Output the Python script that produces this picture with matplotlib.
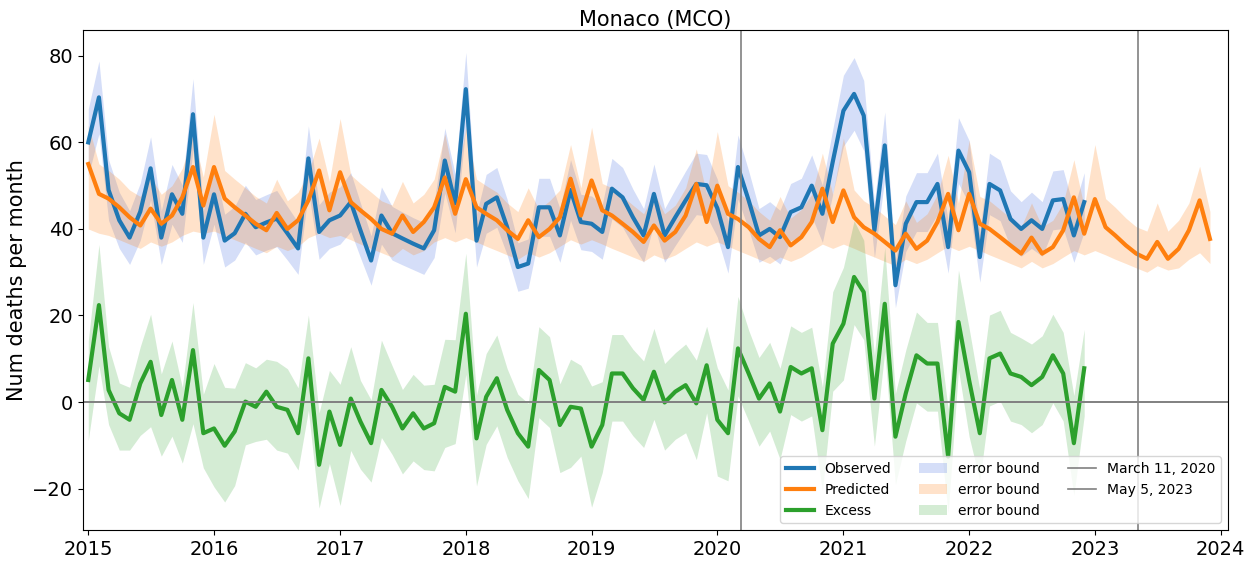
import numpy as np
import pandas as pd
import matplotlib
matplotlib.use("Agg")
import matplotlib.pyplot as plt
import matplotlib.dates as mdates
from matplotlib.patches import Patch
from matplotlib.lines import Line2D

# Monthly values
obs_dates = pd.date_range("2015-01-01", periods=96, freq="MS")
pred_dates = pd.date_range("2015-01-01", periods=108, freq="MS")

observed = [
    60.0, 70.4, 49.0, 42.0, 38.0, 44.0, 54.0, 38.0, 48.0, 43.5, 66.5, 38.0,
    48.0, 37.3, 39.0, 43.5, 40.4, 41.5, 42.4, 39.0, 35.5, 56.3, 39.3, 42.0,
    43.1, 46.2, 39.7, 32.7, 43.1, 39.0, 37.8, 36.6, 35.5, 39.7, 55.8, 45.9,
    72.3, 37.3, 45.8, 47.3, 40.4, 31.2, 32.0, 45.0, 45.0, 38.5, 49.0, 41.6,
    41.2, 39.3, 49.3, 47.3, 42.7, 38.5, 48.1, 38.5, 42.7, 46.6, 50.4, 50.1,
    44.8, 35.8, 54.3, 46.6, 38.5, 40.0, 38.1, 43.9, 45.0, 50.0, 43.5, 55.5,
    67.3, 71.2, 66.2, 39.7, 59.3, 27.0, 41.2, 46.2, 46.2, 50.4, 35.8, 58.1,
    53.1, 33.5, 50.4, 48.9, 42.3, 40.0, 42.0, 40.0, 46.6, 46.9, 38.5, 46.2,
]
obs_err = [
    7.7, 8.4, 7.0, 6.5, 6.2, 6.6, 7.3, 6.2, 6.9, 6.6, 8.2, 6.2,
    6.9, 6.1, 6.2, 6.6, 6.4, 6.4, 6.5, 6.2, 6.0, 7.5, 6.3, 6.5,
    6.6, 6.8, 6.3, 5.7, 6.6, 6.2, 6.1, 6.0, 6.0, 6.3, 7.5, 6.8,
    8.5, 6.1, 6.8, 6.9, 6.4, 5.6, 5.7, 6.7, 6.7, 6.2, 7.0, 6.4,
    6.4, 6.3, 7.0, 6.9, 6.5, 6.2, 6.9, 6.2, 6.5, 6.8, 7.1, 7.1,
    6.7, 6.0, 7.4, 6.8, 6.2, 6.3, 6.2, 6.6, 6.7, 7.1, 6.6, 7.5,
    8.2, 8.4, 8.1, 6.3, 7.7, 5.2, 6.4, 6.8, 6.8, 7.1, 6.0, 7.6,
    7.3, 5.8, 7.1, 7.0, 6.5, 6.3, 6.5, 6.3, 6.8, 6.8, 6.2, 6.8,
]

predicted = [
    55.0, 48.1, 47.0, 45.0, 42.7, 40.8, 44.7, 41.2, 43.1, 47.3, 54.3, 45.4,
    54.3, 47.0, 45.0, 43.1, 41.2, 39.7, 43.7, 40.0, 42.0, 46.6, 53.5, 44.3,
    53.1, 46.2, 44.3, 42.3, 40.0, 38.9, 43.1, 39.3, 41.6, 45.0, 51.9, 43.5,
    51.5, 45.0, 43.5, 42.0, 39.7, 37.7, 42.0, 38.1, 40.0, 42.7, 51.6, 43.1,
    51.2, 44.3, 43.1, 41.2, 39.3, 37.0, 40.8, 37.3, 39.3, 43.1, 50.4, 41.6,
    50.0, 43.5, 42.3, 40.4, 37.7, 35.8, 39.7, 36.2, 38.1, 41.6, 49.3, 41.6,
    48.9, 42.7, 40.4, 38.9, 37.0, 35.0, 38.9, 35.4, 37.3, 41.6, 48.1, 39.7,
    48.1, 41.2, 40.0, 38.1, 36.2, 34.3, 38.0, 34.3, 35.8, 39.7, 47.3, 38.9,
    46.9, 40.4, 38.5, 36.2, 34.3, 33.1, 37.0, 33.1, 35.4, 39.7, 46.6, 37.7,
]
pred_lo = [
    40.0, 39.0, 38.5, 37.5, 36.5, 35.5, 37.0, 36.0, 37.0, 38.5, 39.5, 39.0,
    39.5, 38.5, 37.5, 36.5, 35.5, 34.5, 36.0, 35.0, 36.0, 38.0, 39.0, 38.0,
    38.5, 37.5, 36.5, 35.5, 34.5, 33.5, 35.5, 34.0, 35.0, 37.0, 38.0, 37.0,
    38.0, 37.0, 36.0, 35.0, 34.0, 33.0, 34.5, 33.5, 34.5, 36.0, 37.5, 36.5,
    37.5, 36.5, 35.5, 34.5, 33.5, 32.5, 34.0, 33.0, 34.0, 35.5, 37.0, 36.0,
    37.0, 36.0, 35.0, 34.0, 33.0, 32.0, 33.5, 32.5, 33.5, 35.0, 36.5, 35.5,
    36.5, 35.5, 34.5, 33.5, 32.5, 31.5, 33.0, 32.0, 33.0, 34.5, 36.0, 35.0,
    36.0, 35.0, 34.0, 33.0, 32.0, 31.0, 32.5, 31.0, 32.0, 33.5, 35.0, 34.0,
    35.0, 34.0, 33.0, 32.0, 31.0, 30.0, 31.5, 30.5, 31.0, 33.0, 34.5, 32.0,
]
pred_hi = [
    64.0, 55.0, 53.5, 51.5, 49.0, 47.5, 52.0, 48.0, 50.0, 54.0, 62.0, 52.0,
    66.5, 53.5, 51.5, 49.5, 47.5, 46.0, 51.5, 46.5, 48.5, 53.0, 61.0, 51.0,
    65.5, 52.5, 50.5, 48.5, 46.5, 45.5, 51.0, 46.0, 48.0, 51.5, 62.0, 50.0,
    63.5, 51.5, 50.0, 48.5, 46.0, 44.0, 49.5, 44.5, 46.5, 49.0, 59.5, 49.5,
    63.5, 50.5, 49.5, 47.5, 45.5, 43.5, 48.5, 43.5, 45.5, 49.5, 58.5, 48.0,
    62.5, 50.0, 48.5, 46.5, 44.0, 42.0, 47.5, 42.5, 44.5, 48.0, 57.5, 48.0,
    61.0, 49.0, 46.5, 45.0, 43.0, 41.0, 46.5, 41.5, 43.5, 48.0, 57.0, 46.0,
    60.5, 47.5, 46.5, 44.5, 42.5, 40.5, 46.0, 40.5, 42.0, 46.0, 56.0, 45.0,
    59.5, 47.0, 45.0, 42.5, 40.5, 39.5, 46.0, 39.5, 42.0, 46.0, 54.5, 44.0,
]

excess = [
    5.1, 22.4, 2.8, -2.6, -4.1, 4.3, 9.3, -3.0, 5.1, -4.1, 12.0, -7.2,
    -6.1, -10.1, -6.8, 0.1, -1.1, 2.4, -1.1, -1.8, -7.2, 10.1, -14.5, -2.2,
    -9.9, 0.8, -4.5, -9.5, 2.8, -1.1, -6.1, -2.6, -6.1, -4.9, 3.5, 2.4,
    20.4, -8.4, 1.2, 5.5, -1.8, -7.2, -10.3, 7.4, 5.1, -5.3, -1.1, -1.5,
    -10.3, -5.3, 6.6, 6.6, 3.2, 0.5, 7.0, -0.1, 2.4, 3.9, -0.3, 8.5,
    -4.1, -7.2, 12.4, 6.6, 0.8, 4.3, -2.2, 8.1, 6.6, 7.8, -6.5, 13.5,
    18.1, 28.9, 25.4, 0.8, 22.7, -8.0, 2.0, 10.8, 8.9, 8.9, -12.6, 18.5,
    5.0, -7.2, 10.1, 11.2, 6.6, 5.8, 3.9, 5.8, 10.8, 6.6, -9.5, 7.8,
]
exc_up = [
    9.0, 14.0, 10.0, 7.0, 7.5, 8.5, 11.0, 9.5, 9.0, 7.5, 11.0, 9.0,
    15.0, 13.5, 10.0, 9.0, 9.0, 7.5, 10.5, 9.5, 10.5, 10.0, 12.0, 9.5,
    14.0, 12.0, 9.5, 10.0, 11.5, 9.5, 9.0, 9.0, 10.0, 9.0, 11.0, 12.0,
    14.0, 10.0, 10.0, 10.0, 9.5, 9.0, 10.0, 10.0, 10.0, 9.5, 11.0, 10.0,
    14.0, 10.0, 9.0, 9.0, 9.0, 9.0, 10.0, 9.0, 9.0, 9.5, 10.0, 9.0,
    12.0, 10.0, 12.0, 10.0, 9.5, 9.5, 10.0, 9.5, 9.5, 9.5, 10.0, 12.0,
    13.0, 13.0, 12.0, 10.0, 13.0, 10.0, 10.0, 10.0, 9.5, 9.5, 11.0, 12.0,
    12.0, 10.0, 10.0, 10.0, 9.5, 9.0, 9.5, 9.5, 9.5, 9.5, 11.0, 9.0,
]
exc_dn = [
    14.0, 14.0, 8.0, 8.5, 7.0, 12.0, 15.0, 9.5, 13.0, 10.0, 17.0, 8.0,
    13.5, 13.0, 12.5, 10.0, 8.0, 11.0, 10.0, 10.0, 8.5, 12.0, 10.0, 12.0,
    14.0, 12.0, 11.0, 9.0, 11.0, 11.0, 10.5, 11.0, 9.5, 11.0, 14.0, 12.0,
    14.0, 11.0, 11.0, 11.0, 11.0, 11.0, 12.0, 11.0, 11.0, 11.0, 14.0, 11.0,
    14.0, 11.0, 11.0, 11.0, 11.0, 11.0, 11.0, 11.0, 11.0, 11.0, 13.0, 11.0,
    13.0, 11.0, 11.0, 11.0, 11.0, 11.0, 11.0, 11.0, 11.0, 11.0, 14.0, 11.0,
    13.0, 11.0, 11.0, 11.0, 11.0, 11.0, 11.0, 11.0, 11.0, 11.0, 13.0, 11.0,
    13.0, 11.0, 11.0, 11.0, 11.0, 11.0, 11.0, 11.0, 11.0, 11.0, 12.0, 11.0,
]

events = [("March 11, 2020", "2020-03-11"), ("May 5, 2023", "2023-05-05")]

obs = np.array(observed)
oerr = np.array(obs_err)
exc = np.array(excess)

fig = plt.figure(figsize=(12.59, 5.61), dpi=100)
ax = fig.add_axes([0.066, 0.055, 0.909, 0.891])

ax.fill_between(obs_dates, obs - oerr, obs + oerr, color="royalblue", alpha=0.22, lw=0)
ax.fill_between(pred_dates, pred_lo, pred_hi, color="tab:orange", alpha=0.22, lw=0)
ax.fill_between(obs_dates, exc - np.array(exc_dn), exc + np.array(exc_up),
                color="tab:green", alpha=0.2, lw=0)

ax.plot(obs_dates, observed, color="tab:blue", lw=3)
ax.plot(pred_dates, predicted, color="tab:orange", lw=3)
ax.plot(obs_dates, excess, color="tab:green", lw=3)

ax.axhline(0, color="grey", lw=1.4)
for label, d in events:
    ax.axvline(pd.Timestamp(d), color="grey", lw=1.2)

ax.set_xlim(pd.Timestamp("2014-12-17"), pd.Timestamp("2024-01-21"))
ax.set_ylim(-29.6, 85.9)
ax.xaxis.set_major_locator(mdates.YearLocator())
ax.xaxis.set_major_formatter(mdates.DateFormatter("%Y"))
ax.tick_params(labelsize=14)
ax.set_ylabel("Num deaths per month", fontsize=15)
ax.set_title("Monaco (MCO)", fontsize=15, pad=3)

handles = [
    Line2D([], [], color="tab:blue", lw=3),
    Line2D([], [], color="tab:orange", lw=3),
    Line2D([], [], color="tab:green", lw=3),
    Patch(color="royalblue", alpha=0.22, lw=0),
    Patch(color="tab:orange", alpha=0.22, lw=0),
    Patch(color="tab:green", alpha=0.2, lw=0),
    Line2D([], [], color="grey", lw=1.2),
    Line2D([], [], color="grey", lw=1.2),
]
labels = ["Observed", "Predicted", "Excess",
          "error bound", "error bound", "error bound",
          events[0][0], events[1][0]]
ax.legend(handles, labels, loc="lower right", ncol=3, fontsize=10)

fig.savefig("out.png", dpi=100)
